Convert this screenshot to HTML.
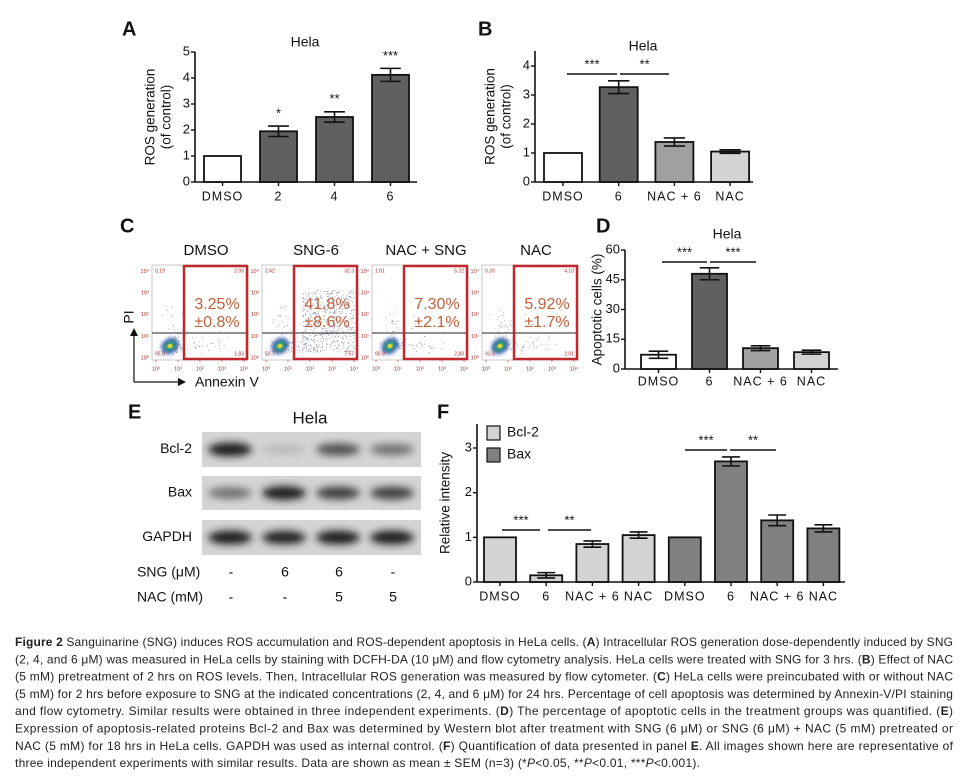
<!DOCTYPE html>
<html><head><meta charset="utf-8">
<style>
html,body{margin:0;padding:0;background:#fff;}
body{width:965px;height:776px;position:relative;overflow:hidden;font-family:"Liberation Sans",sans-serif;}
svg{position:absolute;left:0;top:0;}
</style></head>
<body>
<svg id="fig" width="965" height="776" viewBox="0 0 965 776" xmlns="http://www.w3.org/2000/svg">
<defs>
<filter id="blur" x="-50%" y="-50%" width="200%" height="200%"><feGaussianBlur stdDeviation="4"/></filter>
<filter id="blur2" x="-50%" y="-50%" width="200%" height="200%"><feGaussianBlur stdDeviation="2"/></filter>
</defs>
<g font-family="Liberation Sans, sans-serif" font-size="12" fill="#222">
<text x="15" y="646" textLength="938" lengthAdjust="spacing"><tspan font-weight="bold">Figure 2</tspan> Sanguinarine (SNG) induces ROS accumulation and ROS-dependent apoptosis in HeLa cells. (<tspan font-weight="bold">A</tspan>) Intracellular ROS generation dose-dependently induced by SNG</text>
<text x="15" y="663.3" textLength="938" lengthAdjust="spacing">(2, 4, and 6 μM) was measured in HeLa cells by staining with DCFH-DA (10 μM) and flow cytometry analysis. HeLa cells were treated with SNG for 3 hrs. (<tspan font-weight="bold">B</tspan>) Effect of NAC</text>
<text x="15" y="680.6" textLength="938" lengthAdjust="spacing">(5 mM) pretreatment of 2 hrs on ROS levels. Then, Intracellular ROS generation was measured by flow cytometer. (<tspan font-weight="bold">C</tspan>) HeLa cells were preincubated with or without NAC</text>
<text x="15" y="697.9" textLength="938" lengthAdjust="spacing">(5 mM) for 2 hrs before exposure to SNG at the indicated concentrations (2, 4, and 6 μM) for 24 hrs. Percentage of cell apoptosis was determined by Annexin-V/PI staining</text>
<text x="15" y="715.2" textLength="938" lengthAdjust="spacing">and flow cytometry. Similar results were obtained in three independent experiments. (<tspan font-weight="bold">D</tspan>) The percentage of apoptotic cells in the treatment groups was quantified. (<tspan font-weight="bold">E</tspan>)</text>
<text x="15" y="732.5" textLength="938" lengthAdjust="spacing">Expression of apoptosis-related proteins Bcl-2 and Bax was determined by Western blot after treatment with SNG (6 μM) or SNG (6 μM) + NAC (5 mM) pretreated or</text>
<text x="15" y="749.8" textLength="938" lengthAdjust="spacing">NAC (5 mM) for 18 hrs in HeLa cells. GAPDH was used as internal control. (<tspan font-weight="bold">F</tspan>) Quantification of data presented in panel <tspan font-weight="bold">E</tspan>. All images shown here are representative of</text>
<text x="15" y="767.1" textLength="685" lengthAdjust="spacing">three independent experiments with similar results. Data are shown as mean ± SEM (n=3) (*<tspan font-style="italic">P</tspan>&lt;0.05, **<tspan font-style="italic">P</tspan>&lt;0.01, ***<tspan font-style="italic">P</tspan>&lt;0.001).</text>
</g>
</svg>
<script>
// ---- data ----
const catsA = ["DMSO","2","4","6"];
const valsA = [1, 1.95, 2.5, 4.12];
const errsA = [0, 0.2, 0.2, 0.25];
const starsA = ["", "*", "**", "***"];
const ticksA = [0,1,2,3,4,5];

const catsB = ["DMSO","6","NAC + 6","NAC"];
const valsB = [1, 3.27, 1.38, 1.05];
const errsB = [0, 0.22, 0.14, 0.06];
const ticksB = [0,1,2,3,4];

const catsD = ["DMSO","6","NAC + 6","NAC"];
const valsD = [7.2, 48, 10.5, 8.5];
const errsD = [1.8, 3, 1.2, 1.0];
const ticksD = [0,15,30,45,60];

const catsF = ["DMSO","6","NAC + 6","NAC","DMSO","6","NAC + 6","NAC"];
const valsBcl2 = [1, 0.15, 0.85, 1.05];
const errsBcl2 = [0, 0.06, 0.07, 0.07];
const valsBax = [1, 2.7, 1.38, 1.2];
const errsBax = [0, 0.1, 0.12, 0.08];
const ticksF = [0,1,2,3];

const flowTitles = ["DMSO","SNG-6","NAC + SNG","NAC"];
const flowPct = ["3.25%","41.8%","7.30%","5.92%"];
const flowSem = ["±0.8%","±8.6%","±2.1%","±1.7%"];
const flowQ = [["0.19","2.06","95.9","1.83"],["2.42","32.3","50.7","7.57"],["1.01","5.22","90.9","2.80"],["0.39","4.10","93.5","2.01"]];

const blotLanes = ["1","2","3","4"];
const bandBcl2 = [0.95, 0.18, 0.7, 0.55];
const bandBax = [0.55, 0.95, 0.8, 0.8];
const bandGapdh = [0.95, 0.92, 0.95, 0.95];
const sngRow = ["-","6","6","-"];
const nacRow = ["-","-","5","5"];

const svg = document.getElementById('fig');
const NS = "http://www.w3.org/2000/svg";
function el(tag, attrs, parent){
  const e = document.createElementNS(NS, tag);
  for (const k in attrs) e.setAttribute(k, attrs[k]);
  (parent||svg).appendChild(e);
  return e;
}
function txt(x,y,s,size,anchor,parent,extra){
  const t = el('text',{x:x,y:y,'font-size':size,'text-anchor':anchor||'middle','font-family':'Liberation Sans, sans-serif','dominant-baseline':'middle',fill:'#111'},parent);
  if(extra) for(const k in extra) t.setAttribute(k, extra[k]);
  t.textContent = s;
  return t;
}
function letter(x,y,s){
  const t = txt(x,y,s,20,'start',null,{'font-weight':'bold'});
  
  
}

function chart(cfg){
  const g = el('g',{});
  
  
  const y = v => cfg.zero - (v/cfg.vmax)*(cfg.zero-cfg.ymaxPx);
  const ya = el('line',{x1:cfg.ax,y1:cfg.top,x2:cfg.ax,y2:cfg.zero,stroke:'#111','stroke-width':1.6},g);
   
  const xa = el('line',{x1:cfg.ax,y1:cfg.zero,x2:cfg.axEnd,y2:cfg.zero,stroke:'#111','stroke-width':1.6},g);
   
  cfg.ticks.forEach(t=>{
    el('line',{x1:cfg.ax-4,y1:y(t),x2:cfg.ax,y2:y(t),stroke:'#111','stroke-width':1.4},g);
    const tl = txt(cfg.ax-5,y(t),String(t),13,'end',g);
     
  });
  cfg.vals.forEach((v,i)=>{
    const x0 = cfg.x0 + i*cfg.step;
    const cx = x0 + cfg.bw/2;
    const r = el('rect',{x:x0,y:y(v),width:cfg.bw,height:cfg.zero-y(v),fill:cfg.fills[i],stroke:'#111','stroke-width':1.8},g);
    
    
    const e = cfg.errs[i];
    if(e>0){
      const cw = cfg.bw*0.28;
      el('line',{x1:cx,y1:y(v+e),x2:cx,y2:y(v-e),stroke:'#111','stroke-width':1.6},g);
      el('line',{x1:cx-cw,y1:y(v+e),x2:cx+cw,y2:y(v+e),stroke:'#111','stroke-width':1.6},g);
      el('line',{x1:cx-cw,y1:y(v-e),x2:cx+cw,y2:y(v-e),stroke:'#111','stroke-width':1.6},g);
    }
    el('line',{x1:cx,y1:cfg.zero,x2:cx,y2:cfg.zero+4,stroke:'#111','stroke-width':1.4},g);
    const lb = txt(cx,cfg.labelY,cfg.cats[i],12.5,'middle',g,{'letter-spacing':'1'});
     
    if(cfg.stars && cfg.stars[i]){
      const st = txt(cx,y(v+e)-12,cfg.stars[i],13,'middle',g);
       
    }
  });
  const tx = cfg.ytx, ty = (cfg.top+cfg.zero)/2;
  cfg.ytitle.forEach((line,k)=>{
    const t = txt(tx+k*16,ty,line,13.5,'middle',g,{transform:'rotate(-90 '+(tx+k*16)+' '+ty+')'});
     
  });
  if(cfg.title){
    const t = txt(cfg.title[0],cfg.title[1],'Hela',14,'middle',g);
     
  }
  (cfg.sig||[]).forEach(s=>{
    const l = el('line',{x1:s[0],y1:s[2],x2:s[1],y2:s[2],stroke:'#111','stroke-width':1.6},g);
     
    const t = txt((s[0]+s[1])/2,s[2]-9,s[3],13,'middle',g);
     
  });
  return y;
}

letter(122,30,'A');
chart({name:'chart-a',ax:195,axEnd:417,zero:182,ymaxPx:52,vmax:5,top:52,ticks:ticksA,vals:valsA,errs:errsA,cats:catsA,
  x0:204,step:56,bw:37,fills:['#fff','#606060','#606060','#606060'],labelY:197,stars:starsA,
  ytx:151,ytitle:['ROS generation','(of control)'],title:[305,43]});

letter(478,30,'B');
chart({name:'chart-b',ax:535,axEnd:753,zero:182,ymaxPx:66,vmax:4,top:51,ticks:ticksB,vals:valsB,errs:errsB,cats:catsB,
  x0:544,step:55.7,bw:38,fills:['#fff','#606060','#a0a0a0','#d3d3d3'],labelY:197,
  ytx:491,ytitle:['ROS generation','(of control)'],title:[643,47],
  sig:[[567,617,74,'***'],[620,669,74,'**']]});

letter(596,227,'D');
chart({name:'chart-d',ax:625,axEnd:838,zero:369,ymaxPx:250,vmax:60,top:250,ticks:ticksD,vals:valsD,errs:errsD,cats:catsD,
  x0:641,step:51,bw:35,fills:['#fff','#606060','#a0a0a0','#d3d3d3'],labelY:382,
  ytx:598,ytitle:['Apoptotic cells (%)'],title:[727,235],
  sig:[[662,707,262,'***'],[710,756,262,'***']]});

letter(437,413,'F');
const valsF = valsBcl2.concat(valsBax), errsF = errsBcl2.concat(errsBax);
chart({name:'chart-f',ax:477,axEnd:845,zero:582,ymaxPx:448,vmax:3,top:424,ticks:ticksF,vals:valsF,errs:errsF,cats:catsF,
  x0:484,step:46.2,bw:32,fills:['#d3d3d3','#d3d3d3','#d3d3d3','#d3d3d3','#808080','#808080','#808080','#808080'],labelY:597,
  ytx:446,ytitle:['Relative intensity'],
  sig:[[502,540,530,'***'],[548,591,530,'**'],[685,727,450,'***'],[730,776,450,'**']]});
[['Bcl-2','#d3d3d3',426],['Bax','#808080',448]].forEach(l=>{
  const g = el('g',{});
  
  
  el('rect',{x:487,y:l[2],width:13,height:14,fill:l[1],stroke:'#111','stroke-width':1.2},g);
  txt(507,l[2]+7,l[0],14,'start',g);
});

// ---- Panel C ----
letter(120,227,'C');
let seed = 7;
function rnd(){ seed = (seed*16807)%2147483647; return seed/2147483647; }
function gauss(){ return (rnd()+rnd()+rnd()-1.5)/1.5; }
for(let i=0;i<4;i++){
  const px = 152 + i*110, top=265, w=96, h=95;
  const g = el('g',{});
  
  
  const tt = txt(px+w/2+6,251,flowTitles[i],15,'middle',g);
   
  el('rect',{x:px,y:top,width:w,height:h,fill:'#fff',stroke:'#bbb','stroke-width':0.8},g);
  const n = i===1?700:160;
  for(let k=0;k<n;k++){
    let dx, dy;
    if(i===1 && k>150){ dx = 40+rnd()*52; dy = 25+rnd()*62; }
    else { dx = 20+gauss()*14+ (rnd()<0.25?rnd()*50:0); dy = 80+gauss()*10 - (rnd()<0.2?rnd()*40:0); }
    if(dx<1||dx>w-1||dy<1||dy>h-1) continue;
    el('rect',{x:px+dx,y:top+dy,width:0.9,height:0.9,fill:(rnd()<0.5?'#7a86b0':'#aaa')},g);
  }
  el('ellipse',{cx:px+18,cy:top+81,rx:9,ry:7,fill:'#2a48b0',filter:'url(#blur2)',transform:'rotate(-40 '+(px+18)+' '+(top+81)+')'},g);
  el('ellipse',{cx:px+18,cy:top+81,rx:6,ry:4,fill:'#3fbf6a',filter:'url(#blur2)',transform:'rotate(-40 '+(px+18)+' '+(top+81)+')'},g);
  el('ellipse',{cx:px+18,cy:top+81,rx:2.5,ry:2,fill:'#e8d230'},g);
  el('line',{x1:px,y1:333,x2:px+w,y2:333,stroke:'#222','stroke-width':1},g);
  const box = el('rect',{x:px+32,y:top+1,width:w-33,height:h-2,fill:'none',stroke:'#c0282d','stroke-width':2.5},g);
   
  const p1 = txt(px+65,305,flowPct[i],16,'middle',g,{fill:'#c0603a'});
   
  txt(px+65,323,flowSem[i],16,'middle',g,{fill:'#c0603a'});
  txt(px+3,top+6,flowQ[i][0],5,'start',g,{fill:'#a33'});
  txt(px+w-4,top+6,flowQ[i][1],5,'end',g,{fill:'#a33'});
  txt(px+3,top+h-6,flowQ[i][2],5,'start',g,{fill:'#a33'});
  txt(px+w-4,top+h-6,flowQ[i][3],5,'end',g,{fill:'#a33'});
  for(let t=0;t<5;t++){
    const ty = top+h-2 - t*(h-4)/4.2;
    txt(px-3,ty,'10'+['⁰','¹','²','³','⁴'][t],5.5,'end',g,{fill:'#a33'});
    const tx = px+4 + t*(w-8)/4;
    txt(tx,369,'10'+['⁰','¹','²','³','⁴'][t],5.5,'middle',g,{fill:'#a33'});
    el('line',{x1:tx,y1:top+h,x2:tx,y2:top+h+2,stroke:'#a33','stroke-width':0.6},g);
  }
}
el('line',{x1:134,y1:382,x2:134,y2:334,stroke:'#111','stroke-width':1.2});
el('polygon',{points:'130,336 134,328 138,336',fill:'#111'});
el('line',{x1:134,y1:382,x2:180,y2:382,stroke:'#111','stroke-width':1.2});
el('polygon',{points:'178,378 186,382 178,386',fill:'#111'});
const piL = txt(130,317,'PI',14,'middle',null,{transform:'rotate(-90 130 317)'});
 
const anL = txt(195,383,'Annexin V',14,'start');
 

// ---- Panel E ----
letter(128,413,'E');
const he = txt(310,419,'Hela',17,'middle');
 
const rows = [['Bcl-2',432,467,bandBcl2],['Bax',476,510,bandBax],['GAPDH',520,555,bandGapdh]];
rows.forEach(r=>{
  const g = el('g',{});
  
  
  el('rect',{x:202,y:r[1],width:219,height:r[2]-r[1],fill:'#d4d4d4'},g);
  txt(192,(r[1]+r[2])/2,r[0],14,'end',g);
  blotLanes.forEach((ln,j)=>{
    const cx = 230 + j*54;
    const inten = r[3][j];
    const c = Math.round(220 - inten*200);
    el('ellipse',{cx:cx,cy:(r[1]+r[2])/2,rx:22,ry:4+inten*3,fill:'rgb('+c+','+c+','+c+')',filter:'url(#blur)'},g);
  });
});
const sl = txt(137,573,'SNG (μM)',14,'start');
 
const nl = txt(137,598,'NAC (mM)',14,'start');
 
sngRow.forEach((s,j)=>{ txt(231+j*54,573,s,14,'middle'); });
nacRow.forEach((s,j)=>{ txt(231+j*54,598,s,14,'middle'); });
</script>
</body></html>
